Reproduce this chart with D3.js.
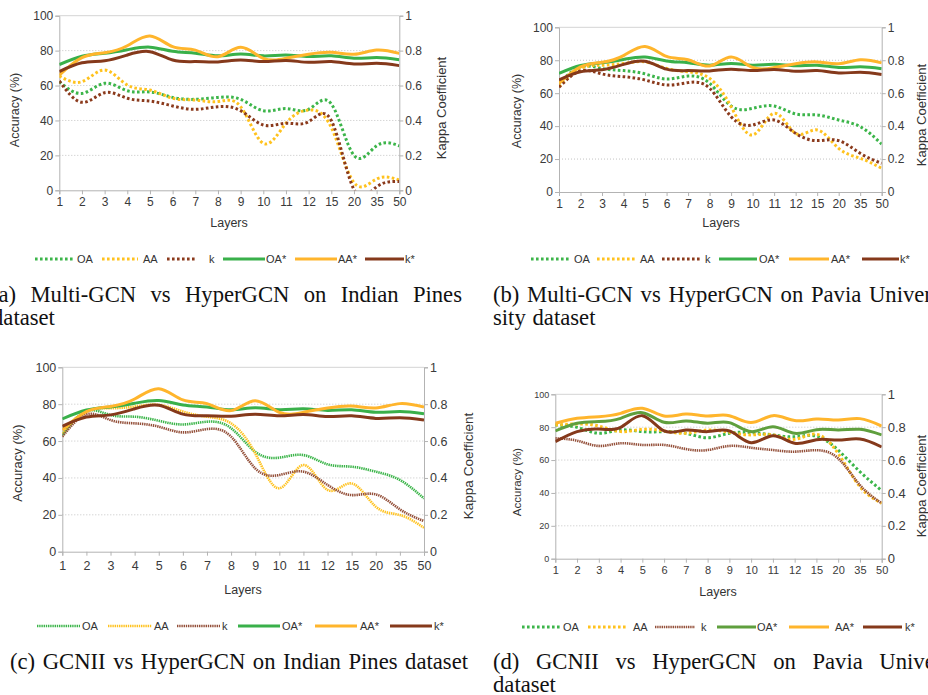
<!DOCTYPE html>
<html><head><meta charset="utf-8">
<script src="https://cdn.jsdelivr.net/npm/d3@7"></script>
<style>body{margin:0;background:#fff}svg{display:block}</style>
</head><body>
<svg id="fig" width="928" height="695"></svg>
<script>
// ---------- data ----------
const layers = ["1","2","3","4","5","6","7","8","9","10","11","12","15","20","35","50"];
const accTicks = [0,20,40,60,80,100];
const kappaTicks = [0,0.2,0.4,0.6,0.8,1];

// HyperGCN (starred series), panels a-c
const hyperOA = [72,76.8,78.5,80.5,82,79.6,78.5,77,78,77,77.5,76.6,77,75.6,76,74.8];
const hyperAA = [66,76,78.8,82.8,88.4,82.3,80.3,76.5,81.9,75.6,75.6,77.9,79,77.9,80.3,78.4];
const hyperK  = [0.68,0.73,0.742,0.775,0.794,0.746,0.737,0.735,0.746,0.737,0.744,0.733,0.737,0.723,0.727,0.714];

// (a) Multi-GCN on Indian Pines
const aOA = [62.2,55.5,61.3,57,56.3,53.2,52.1,53.2,52.1,45.6,46.8,46.4,49.5,20,25.5,25.4];
const aAA = [65.5,62.2,68.9,60.3,57.4,52.7,51.7,50.8,47.9,26.9,38.4,46,36,4.4,6.5,5.9];
const aK  = [0.626,0.504,0.559,0.527,0.511,0.483,0.464,0.479,0.456,0.374,0.384,0.393,0.40,0.005,0.02,0.05];

// (b) Multi-GCN on Pavia University
const bOA = [66,76,75,73.7,71.7,68.6,70.4,66,52.2,50.8,52.2,47.4,46.8,43.7,39.7,29.1];
const bAA = [64,75,77,78,79,75,73,69,51.8,34.6,47.8,35.6,37.7,26.5,20.5,14.4];
const bK  = [0.636,0.735,0.717,0.70,0.68,0.65,0.664,0.63,0.457,0.407,0.437,0.356,0.312,0.312,0.235,0.174];

// (c) GCNII on Indian Pines
const cOA = [63.3,76.3,74.1,73.2,71,69,70.5,67,54.2,51,52.4,47.4,46.1,43.4,38.9,28.9];
const cAA = [64.2,76,77.8,78.7,79.6,76,73.2,69.6,53.3,34.4,47,33.5,37,24.4,19.9,13];
const cK  = [0.624,0.745,0.714,0.696,0.678,0.647,0.665,0.624,0.452,0.416,0.434,0.362,0.307,0.311,0.23,0.166];

// (d) GCNII vs HyperGCN on Pavia University
const dOA = [81.3,79.9,76.3,78.3,77.3,77.3,76.3,73.6,76.3,76.7,75.3,74.2,74.6,66,52.9,41.4];
const dAA = [81.3,82,80.7,77.3,78.7,77.7,76.3,78.3,76.9,75.3,75.3,72.6,75.7,64,43.8,33.7];
const dK  = [0.732,0.718,0.686,0.702,0.692,0.692,0.667,0.661,0.686,0.675,0.661,0.651,0.66,0.61,0.448,0.337];
const dOAstar = [77.7,82.4,83.4,85.4,88.8,83,83.8,82.4,82.8,77.3,80.3,76.3,78.5,78.3,78.7,75.3];
const dAAstar = [82.4,85.4,86.4,88.4,91.5,86.8,88,86.8,87,82.8,87,84,85,84.4,85.2,80.7];
const dKstar  = [0.712,0.773,0.789,0.799,0.87,0.777,0.783,0.773,0.777,0.706,0.748,0.702,0.724,0.722,0.728,0.68];

const legendNames = ["OA","AA","k","OA*","AA*","k*"];

// ---------- styles ----------
const C = {
  green:"#39b04a", greenDot:"#3cb54a", orange:"#ffb52c", orangeDot:"#ffc21e",
  brown:"#85391b", brownDot:"#8b3a1c", brownFine:"#94503a", olive:"#5f9f3d"
};
const SANS = "'Liberation Sans', Arial, sans-serif";
const SERIF = "'Liberation Serif', 'Times New Roman', serif";
const thickDot = {w:3, dash:"2.6,2.4"};
const fineDot = {w:2.6, dash:"1.4,0.8"};
const solid = {w:3, dash:null};

const svg = d3.select("#fig");

function panel(cfg) {
  const g = svg.append("g");
  const x = d3.scalePoint().domain(layers).range([cfg.x0, cfg.x1]);
  const y = d3.scaleLinear().domain([0,100]).range([cfg.y1, cfg.y0]);
  const yk = d3.scaleLinear().domain([0,1]).range([cfg.y1, cfg.y0]);

  g.selectAll(".grid").data([20,40,60,80]).enter().append("line")
    .attr("x1", cfg.x0).attr("x2", cfg.x1)
    .attr("y1", d=>y(d)).attr("y2", d=>y(d))
    .attr("stroke", "#c4c4c4").attr("stroke-width", 1).attr("stroke-dasharray", "1,2");
  g.append("line").attr("x1", cfg.x0).attr("x2", cfg.x1)
    .attr("y1", y(100)).attr("y2", y(100)).attr("stroke", "#d4d4d4");

  const styleAxis = (sel, fs) => {
    sel.select(".domain").attr("stroke", "#b3b3b3");
    sel.selectAll(".tick line").attr("stroke", "#b3b3b3");
    sel.selectAll(".tick text").attr("fill", "#3a3a3a").style("font-family", SANS).style("font-size", fs + "px");
  };
  g.append("g").attr("transform", `translate(${cfg.x0},0)`)
    .call(d3.axisLeft(y).tickValues(accTicks).tickSizeOuter(0).tickSize(4).tickPadding(2))
    .call(s => styleAxis(s, cfg.fsL));
  g.append("g").attr("transform", `translate(${cfg.x1},0)`)
    .call(d3.axisRight(yk).tickValues(kappaTicks).tickFormat(d3.format("~g")).tickSizeOuter(0).tickSize(4).tickPadding(2))
    .call(s => styleAxis(s, cfg.fsR));
  g.append("g").attr("transform", `translate(0,${cfg.y1})`)
    .call(d3.axisBottom(x).tickSizeOuter(0).tickSize(4).tickPadding(cfg.xPad))
    .call(s => styleAxis(s, cfg.fsX));

  g.append("text").attr("transform", `translate(${cfg.accX},${cfg.accY}) rotate(-90)`)
    .attr("text-anchor", "middle").attr("dominant-baseline", "central")
    .style("font-family", SANS).style("font-size", cfg.fsAcc + "px").attr("fill", "#333").text("Accuracy (%)");
  g.append("text").attr("transform", `translate(${cfg.kapX},${cfg.kapY}) rotate(-90)`)
    .attr("text-anchor", "middle").attr("dominant-baseline", "central")
    .style("font-family", SANS).style("font-size", cfg.fsKap + "px").attr("fill", "#333").text("Kappa Coefficient");
  g.append("text").attr("x", cfg.layX).attr("y", cfg.layY).attr("text-anchor", "middle")
    .style("font-family", SANS).style("font-size", "12.5px").attr("fill", "#333").text("Layers");

  const clipId = "clip" + cfg.id;
  svg.append("clipPath").attr("id", clipId).append("rect")
    .attr("x", cfg.x0).attr("y", cfg.y0 - 5).attr("width", cfg.x1 - cfg.x0).attr("height", cfg.y1 - cfg.y0 + 5);
  const lg = g.append("g").attr("clip-path", `url(#${clipId})`);
  cfg.series.forEach(s => {
    const sc = s.kappa ? yk : y;
    const line = d3.line().x((d,i) => x(layers[i])).y(d => sc(d)).curve(d3.curveNatural);
    lg.append("path").attr("d", line(s.values)).attr("fill", "none")
      .attr("stroke", s.color).attr("stroke-width", s.st.w)
      .attr("stroke-dasharray", s.st.dash).attr("stroke-linejoin", "round");
  });

  const leg = g.append("g");
  cfg.series.forEach((s, i) => {
    const L = cfg.legend[i];
    leg.append("line").attr("x1", L[0]).attr("x2", L[1]).attr("y1", cfg.legY).attr("y2", cfg.legY)
      .attr("stroke", s.color).attr("stroke-width", s.st.w).attr("stroke-dasharray", s.st.dash);
    leg.append("text").attr("x", L[2]).attr("y", cfg.legY + 4)
      .style("font-family", SANS).style("font-size", "11px").attr("fill", "#333").text(legendNames[i]);
  });
}

const starA = (oaCol) => [
  {values: hyperOA, color: oaCol, st: solid},
  {values: hyperAA, color: C.orange, st: solid},
  {values: hyperK, color: C.brown, st: solid, kappa: true}
];

panel({id:"a", x0:59.3, x1:399.3, y0:15.7, y1:190.3, fsL:12, fsR:12, fsX:12, xPad:3,
  accX:15, accY:110, kapX:441.7, kapY:108, layX:229, layY:227, fsAcc:12.5, fsKap:13,
  legY:259,
  legend:[[35,73,77],[102,138,143],[167,197,209],[223,265,266],[295,337,338],[365,404,405]],
  series:[
    {values:aOA, color:C.greenDot, st:thickDot},
    {values:aAA, color:C.orangeDot, st:thickDot},
    {values:aK, color:C.brownDot, st:thickDot, kappa:true},
    ...starA(C.green)]});

panel({id:"b", x0:559, x1:881.7, y0:27.3, y1:192, fsL:12, fsR:12, fsX:12, xPad:3,
  accX:516.7, accY:111, kapX:921.7, kapY:115, layX:721, layY:227, fsAcc:12.5, fsKap:13,
  legY:259,
  legend:[[531,571,574],[597,635,640],[662,702,705],[719,757,759],[789,829,831],[862,899,900]],
  series:[
    {values:bOA, color:C.greenDot, st:thickDot},
    {values:bAA, color:C.orangeDot, st:thickDot},
    {values:bK, color:C.brownDot, st:thickDot, kappa:true},
    ...starA(C.green)]});

panel({id:"c", x0:62.3, x1:424, y0:367.3, y1:551.7, fsL:12.5, fsR:12.5, fsX:12.5, xPad:5,
  accX:17, accY:463, kapX:468.3, kapY:466, layX:243, layY:594, fsAcc:13, fsKap:13.5,
  legY:626,
  legend:[[37,80,82],[108,152,154],[177,220,222],[238,280,282],[315,357,360],[390,432,434]],
  series:[
    {values:cOA, color:C.greenDot, st:fineDot},
    {values:cAA, color:C.orangeDot, st:fineDot},
    {values:cK, color:C.brownFine, st:fineDot, kappa:true},
    ...starA(C.green)]});

panel({id:"d", x0:555.3, x1:881.7, y0:394.3, y1:558.7, fsL:9, fsR:13, fsX:11, xPad:4,
  accX:517.3, accY:482, kapX:921.7, kapY:486, layX:718, layY:596, fsAcc:11.5, fsKap:13,
  legY:627,
  legend:[[522,562,563],[588,628,633],[655,695,701],[717,756,757],[789,829,835],[863,902,905]],
  series:[
    {values:dOA, color:C.greenDot, st:thickDot},
    {values:dAA, color:C.orangeDot, st:thickDot},
    {values:dK, color:C.brownFine, st:fineDot, kappa:true},
    {values:dOAstar, color:C.olive, st:solid},
    {values:dAAstar, color:C.orange, st:solid},
    {values:dKstar, color:C.brown, st:solid, kappa:true}]});

// ---------- captions (justified serif text) ----------
const probe = svg.append("text").style("font-family", SERIF).style("font-size", "20px")
  .text("(c) GCNII vs HyperGCN on Indian Pines dataset");
const capSize = 20 * 445 / probe.node().getComputedTextLength();
probe.remove();

function captionLine(x, y, width, words, justify) {
  const g = svg.append("g");
  const nodes = words.map(w => g.append("text").attr("y", y)
    .style("font-family", SERIF).style("font-size", capSize + "px")
    .attr("fill", "#111").text(w).node());
  const widths = nodes.map(n => n.getComputedTextLength());
  const gap = justify && words.length > 1 ? (width - d3.sum(widths)) / (words.length - 1) : capSize * 0.3;
  let cx = x;
  nodes.forEach((n, i) => { d3.select(n).attr("x", cx); cx += widths[i] + gap; });
}
captionLine(-9, 302, 471, ["(a)","Multi-GCN","vs","HyperGCN","on","Indian","Pines"], true);
captionLine(-8, 325, 0, ["dataset"], false);
captionLine(493, 302, 446, ["(b)","Multi-GCN","vs","HyperGCN","on","Pavia","Univer-"], true);
captionLine(493, 325, 0, ["sity","dataset"], false);
captionLine(10, 669, 458, ["(c)","GCNII","vs","HyperGCN","on","Indian","Pines","dataset"], true);
captionLine(493, 669, 482, ["(d)","GCNII","vs","HyperGCN","on","Pavia","University"], true);
captionLine(493, 692, 0, ["dataset"], false);
</script>
</body></html>
